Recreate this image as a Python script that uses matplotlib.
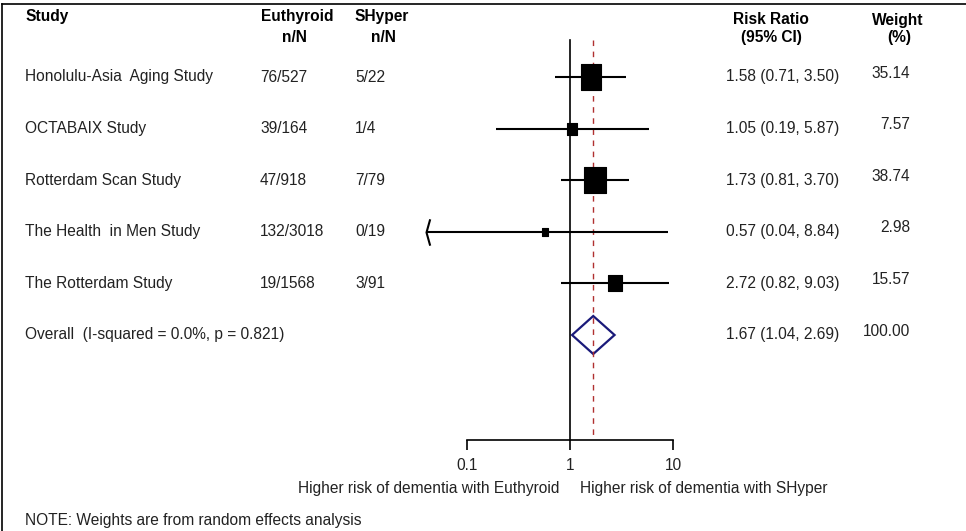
import numpy as np
import matplotlib
matplotlib.use("Agg")
import matplotlib.pyplot as plt
from matplotlib.path import Path
from matplotlib.lines import Line2D
from matplotlib.ticker import NullLocator
import matplotlib.transforms as mtransforms

# ---------------------------------------------------------------- data
studies = ["Honolulu-Asia  Aging Study", "OCTABAIX Study", "Rotterdam Scan Study",
           "The Health  in Men Study", "The Rotterdam Study"]
euthyroid_nN = ["76/527", "39/164", "47/918", "132/3018", "19/1568"]
shyper_nN = ["5/22", "1/4", "7/79", "0/19", "3/91"]
rr = [1.58, 1.05, 1.73, 0.57, 2.72]
ci_lo = [0.71, 0.19, 0.81, 0.04, 0.82]
ci_hi = [3.50, 5.87, 3.70, 8.84, 9.03]
weights = [35.14, 7.57, 38.74, 2.98, 15.57]

overall_label = "Overall  (I-squared = 0.0%, p = 0.821)"
overall_rr, overall_lo, overall_hi = 1.67, 1.04, 2.69
overall_weight = 100.00

xticks = [0.1, 1, 10]
xticklabels = ["0.1", "1", "10"]
left_note = "Higher risk of dementia with Euthyroid"
right_note = "Higher risk of dementia with SHyper"
footnote = "NOTE: Weights are from random effects analysis"

# ---------------------------------------------------------------- layout
W, H = 966, 531
fs = 11.2
txt = "#222222"


def fx(px):
    return px / W


def fy(py):
    return 1 - py / H


row0_px, row_step = 77.0, 51.6   # pixel y of first row, spacing


def prow(py):
    return 1 + (py - row0_px) / row_step


x1_px, dec_px = 570.3, 103.0     # pixel of RR=1, pixels per decade


def pxval(px):
    return 10 ** ((px - x1_px) / dec_px)


plt.rcParams["font.family"] = ["Liberation Sans", "DejaVu Sans"]
fig = plt.figure(figsize=(W / 100, H / 100), dpi=100)

ax_l, ax_r = 400, 700
ax = fig.add_axes([fx(ax_l), 0, fx(ax_r) - fx(ax_l), 1])
ax.set_xscale("log")
ax.set_xlim(pxval(ax_l), pxval(ax_r))
ax.set_ylim(prow(H), prow(0))
ax.patch.set_alpha(0)
for s in ["top", "left", "right"]:
    ax.spines[s].set_visible(False)

axis_row = prow(440)
top_row = prow(40)
ax.spines["bottom"].set_position(("data", axis_row))
ax.spines["bottom"].set_bounds(xticks[0], xticks[-1])
ax.spines["bottom"].set_linewidth(1.2)
ax.set_xticks(xticks)
ax.set_xticklabels(xticklabels, fontsize=fs, color=txt)
ax.xaxis.set_minor_locator(NullLocator())
ax.tick_params(axis="x", direction="out", length=7.2, width=1.2, pad=5.5)
ax.set_yticks([])

# null line and overall line
ax.plot([1, 1], [top_row, axis_row], color="black", lw=1.2)
ax.plot([overall_rr, overall_rr], [top_row, axis_row], color="#b03030",
        lw=1.0, ls=(0, (4, 4)))

# study rows
rows = np.arange(1, len(studies) + 1)
rect = Path([(-0.4, -0.5), (0.4, -0.5), (0.4, 0.5), (-0.4, 0.5), (-0.4, -0.5)],
            [Path.MOVETO, Path.LINETO, Path.LINETO, Path.LINETO, Path.CLOSEPOLY])
chevron = Path([(0.28, 1), (0, 0), (0.28, -1)],
               [Path.MOVETO, Path.LINETO, Path.LINETO])
x_min_shown = 0.04

for r, est, lo, hi, w in zip(rows, rr, ci_lo, ci_hi, weights):
    ax.plot([lo, hi], [r, r], color="black", lw=1.5, solid_capstyle="butt")
    if lo <= x_min_shown:
        ax.plot([lo], [r], marker=chevron, markersize=19, mfc="none",
                mec="black", mew=1.5)
    ax.plot([est], [r], marker=rect, markersize=4.25 * np.sqrt(w) * 0.72,
            color="black", mew=0.8)

# overall diamond (outline only, dashed line shows through)
orow = len(studies) + 1
half = 19 / row_step
ax.fill([overall_lo, overall_rr, overall_hi, overall_rr],
        [orow, orow - half, orow, orow + half],
        facecolor="none", edgecolor="#1a1a7a", lw=1.6)

# ---------------------------------------------------------------- texts
trans = mtransforms.blended_transform_factory(fig.transFigure, ax.transData)

hdr_kw = dict(fontsize=fs, fontweight="bold", color="black", ha="center", va="center")
fig.text(fx(25), fy(17), "Study", **dict(hdr_kw, ha="left"))
fig.text(fx(297), fy(17), "Euthyroid", **hdr_kw)
fig.text(fx(294), fy(37), "n/N", **hdr_kw)
fig.text(fx(382), fy(17), "SHyper", **hdr_kw)
fig.text(fx(383), fy(37), "n/N", **hdr_kw)
fig.text(fx(771), fy(20), "Risk Ratio", **hdr_kw)
fig.text(fx(771), fy(37), "(95% CI)", **hdr_kw)
fig.text(fx(898), fy(20), "Weight", **hdr_kw)
fig.text(fx(899), fy(37), "(%)", **hdr_kw)

row_kw = dict(fontsize=fs, color=txt, va="center", transform=trans)
w_shift = 4 / row_step
for r, name, e, s, est, lo, hi, w in zip(rows, studies, euthyroid_nN, shyper_nN,
                                         rr, ci_lo, ci_hi, weights):
    ax.text(fx(25), r, name, ha="left", **row_kw)
    ax.text(fx(260), r, e, ha="left", **row_kw)
    ax.text(fx(355), r, s, ha="left", **row_kw)
    ax.text(fx(726), r, f"{est:.2f} ({lo:.2f}, {hi:.2f})", ha="left", **row_kw)
    ax.text(fx(910), r - w_shift, f"{w:.2f}", ha="right", **row_kw)

ax.text(fx(25), orow, overall_label, ha="left", **row_kw)
ax.text(fx(726), orow, f"{overall_rr:.2f} ({overall_lo:.2f}, {overall_hi:.2f})",
        ha="left", **row_kw)
ax.text(fx(910), orow - w_shift, f"{overall_weight:.2f}", ha="right", **row_kw)

fig.text(fx(559), fy(488), left_note, fontsize=fs, color=txt, ha="right", va="center")
fig.text(fx(580), fy(488), right_note, fontsize=fs, color=txt, ha="left", va="center")
fig.text(fx(25), fy(521), footnote, fontsize=fs, color=txt, ha="left", va="center")

# frame lines (top and left)
fig.add_artist(Line2D([fx(2), 1], [fy(4), fy(4)], color="black", lw=1.2))
fig.add_artist(Line2D([fx(2), fx(2)], [fy(4), 0], color="black", lw=1.2))

fig.savefig("out.png", dpi=100)
